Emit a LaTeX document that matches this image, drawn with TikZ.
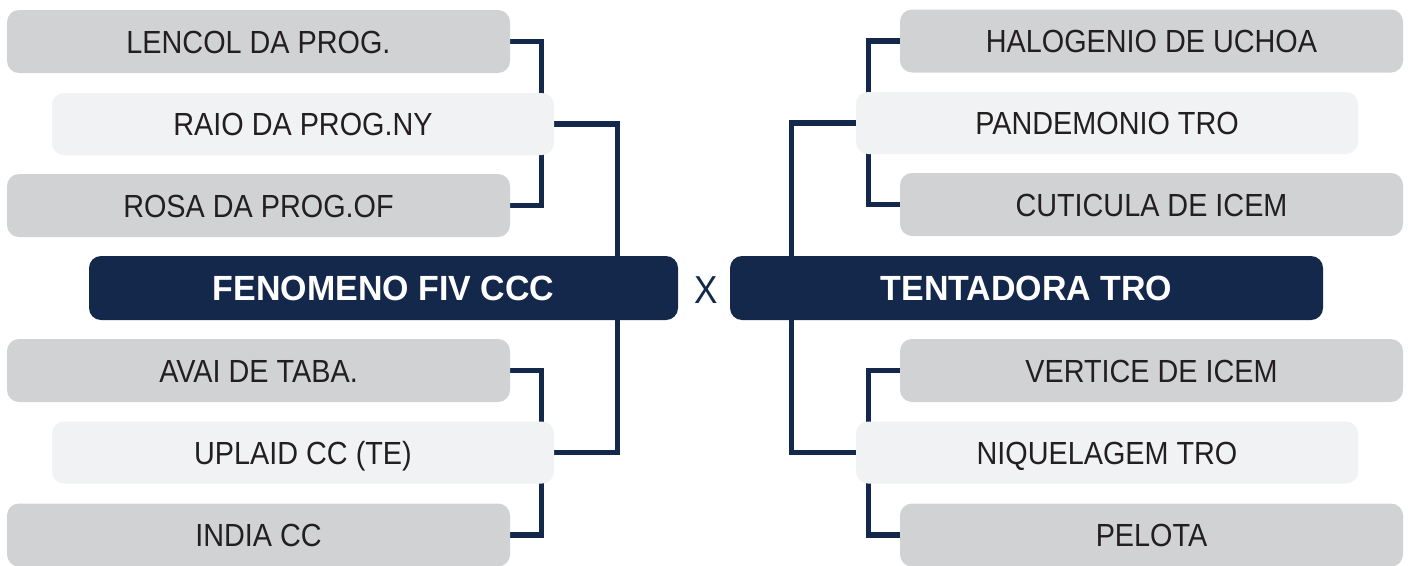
\documentclass[tikz,border=0pt]{standalone}
\usepackage{fontspec}
\setmainfont{Liberation Sans}[FakeStretch=0.9]
\newfontfamily\boldfam{Liberation Sans}[FakeStretch=0.97]
\pgfdeclarelayer{bg}
\pgfsetlayers{bg,main}
\definecolor{navy}{HTML}{14284B}
\definecolor{boxgray}{HTML}{D1D2D4}
\definecolor{boxlight}{HTML}{F1F2F4}
\definecolor{txt}{HTML}{231F20}
\tikzset{
  base/.style={rectangle, rounded corners=12pt, inner sep=0pt, text=txt,
    font=\fontsize{32}{36}\selectfont, text height=23pt, text depth=0pt},
  graybox/.style={base, fill=boxgray, minimum width=503pt, minimum height=63pt},
  lightbox/.style={base, fill=boxlight, minimum width=502pt, minimum height=62pt},
  teambox/.style={base, fill=navy, text=white, minimum height=64pt,
    font=\boldfam\bfseries\fontsize{35}{40}\selectfont, text height=25pt},
  conn/.style={draw=navy, line width=5.2pt},
  vsmark/.style={text=navy, inner sep=0pt, font=\fontsize{39}{44}\selectfont, text height=28pt, text depth=0pt}
}
\begin{document}
\begin{tikzpicture}[x=1pt,y=-1pt]
\useasboundingbox (0,0) rectangle (1408,565);
% left side
\node[graybox]  (lencol) at (258.5,41.5) {LENCOL DA PROG.};
\node[lightbox] (raio)   at (303,124)    {RAIO DA PROG.NY};
\node[graybox]  (rosa)   at (258.5,205.5){ROSA DA PROG.OF};
\node[teambox, minimum width=589pt] (fen) at (383.5,288) {FENOMENO FIV CCC};
\node[graybox]  (avai)   at (258.5,370.5){AVAI DE TABA.};
\node[lightbox] (uplaid) at (303,452.5)  {UPLAID CC (TE)};
\node[graybox]  (india)  at (258.5,535)  {INDIA CC};
% center
\node[vsmark] (vs) at (706,289) {X};
% right side
\node[graybox]  (halo)  at (1151.5,41)   {HALOGENIO DE UCHOA};
\node[lightbox] (pand)  at (1107,123)    {PANDEMONIO TRO};
\node[graybox]  (cuti)  at (1151.5,204.5){CUTICULA DE ICEM};
\node[teambox, minimum width=593pt] (tent) at (1026.5,288) {TENTADORA TRO};
\node[graybox]  (vert)  at (1151.5,370.5){VERTICE DE ICEM};
\node[lightbox] (niq)   at (1107,452.5)  {NIQUELAGEM TRO};
\node[graybox]  (pel)   at (1151.5,535)  {PELOTA};
% connectors
\begin{pgfonlayer}{bg}
\fill[white] (0,0) rectangle (1408,565);
\draw[conn] (lencol.east) -- ++(31,0) |- (rosa.east);
\draw[conn] (raio.east) -- ++(63,0) |- (uplaid.east);
\draw[conn] (avai.east) -- ++(31,0) |- (india.east);
\draw[conn] (halo.west) -- ++(-31,0) |- (cuti.west);
\draw[conn] (pand.west) -- ++(-64,0) |- (niq.west);
\draw[conn] (vert.west) -- ++(-31,0) |- (pel.west);
\end{pgfonlayer}
\end{tikzpicture}
\end{document}
